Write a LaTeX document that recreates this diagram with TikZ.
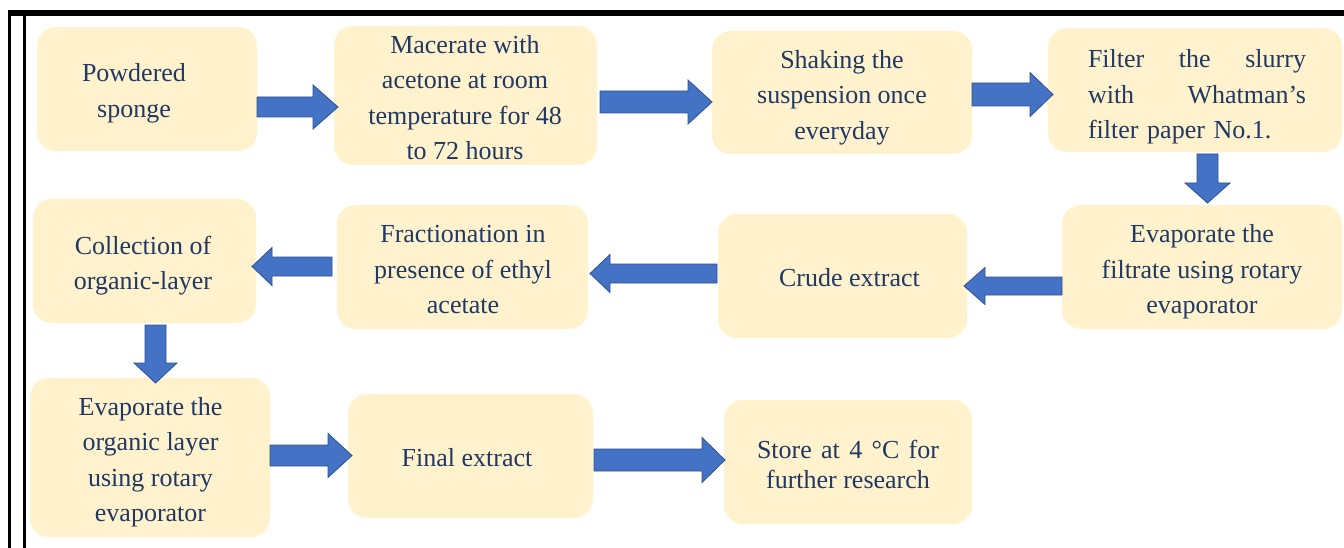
\documentclass[tikz,border=0pt]{standalone}
\usepackage{fontspec}
\setmainfont{Liberation Serif}
\usetikzlibrary{calc}
\definecolor{boxfill}{HTML}{FFF2CC}
\definecolor{navy}{HTML}{203864}
\definecolor{arrfill}{HTML}{4472C4}
\definecolor{arrline}{HTML}{2F528F}
\tikzset{
  stagebox/.style={rectangle, rounded corners=19pt, fill=boxfill, draw=none, inner sep=0pt},
  stagetext/.style={inner sep=0pt, text=navy, align=center,
    font=\fontsize{26}{35.5}\selectfont,
    execute at begin node=\strut, execute at end node=\strut},
  blockarrow/.style={fill=arrfill, draw=arrline, line width=0.8pt, line join=miter},
  frameline/.style={black, line cap=butt}
}
\newcommand\blockarr[5]{%
  \coordinate (hb) at ($(#2)!#5 pt!(#1)$);
  \filldraw[blockarrow] ($(#1)!#3 pt!90:(#2)$) -- ($(hb)!#3 pt!90:(#2)$) --
    ($(hb)!#4 pt!90:(#2)$) -- (#2) -- ($(hb)!#4 pt!-90:(#2)$) --
    ($(hb)!#3 pt!-90:(#2)$) -- ($(#1)!#3 pt!-90:(#2)$) -- cycle;
}
\newcommand\spreadline[2]{\leavevmode\hbox to #1{#2}}
\begin{document}
\begin{tikzpicture}[x=1pt,y=-1pt]
\useasboundingbox (0,0) rectangle (1344,548);
\fill[white] (0,0) rectangle (1344,548);
% frame
\draw[frameline, line width=3pt] (9.5,10) -- (9.5,548);
\draw[frameline, line width=3.5pt] (24.5,13) -- (24.5,548);
\draw[frameline, line width=6pt] (8,13) -- (1344,13);
% boxes
\node[stagebox, minimum width=220pt, minimum height=124pt] (b1) at (147,89) {};
\node[stagebox, minimum width=263pt, minimum height=139pt] (b2) at (465.5,95.5) {};
\node[stagebox, minimum width=260pt, minimum height=123pt] (b3) at (842,92.5) {};
\node[stagebox, minimum width=294pt, minimum height=124pt] (b4) at (1195,90) {};
\node[stagebox, minimum width=280pt, minimum height=124pt] (b5) at (1202,267) {};
\node[stagebox, minimum width=249pt, minimum height=124pt] (b6) at (842.5,276) {};
\node[stagebox, minimum width=251pt, minimum height=124pt] (b7) at (462.5,267) {};
\node[stagebox, minimum width=223pt, minimum height=124pt] (b8) at (144.5,261) {};
\node[stagebox, minimum width=240pt, minimum height=159pt] (b9) at (150,457.5) {};
\node[stagebox, minimum width=245pt, minimum height=124pt] (b10) at (470.5,456) {};
\node[stagebox, minimum width=248pt, minimum height=124pt] (b11) at (848,462) {};
% texts
\node[stagetext] (t1) at (134,96) {Powdered\\sponge};
\node[stagetext] (t2) at (465,103) {Macerate with\\acetone at room\\temperature for 48\\to 72 hours};
\node[stagetext] (t3) at (842,100.2) {Shaking the\\suspension once\\everyday};
\node[stagetext, align=left, text width=218pt] (t4) at (1197,96)
  {\spreadline{218pt}{Filter\hfill the\hfill slurry}\\\spreadline{218pt}{with\hfill Whatman’s}\\filter paper No.1.};
\node[stagetext] (t5) at (1202,274.5) {Evaporate the\\filtrate using rotary\\evaporator};
\node[stagetext] (t6) at (849.5,278.9) {Crude extract};
\node[stagetext] (t7) at (463,275) {Fractionation in\\presence of ethyl\\acetate};
\node[stagetext] (t8) at (143,268) {Collection of\\organic-layer};
\node[stagetext] (t9) at (150.5,465) {Evaporate the\\organic layer\\using rotary\\evaporator};
\node[stagetext] (t10) at (467,459) {Final extract};
\node[stagetext, font=\fontsize{26}{30}\selectfont] (t11) at (848,468.5)
  {\spreadline{182pt}{Store\hfill at\hfill 4\hfill °C\hfill for}\\further research};
% arrow end points
\coordinate (a1s) at (257,107);   \coordinate (a1e) at (338,107);
\coordinate (a2s) at (600,102);   \coordinate (a2e) at (712,102);
\coordinate (a3s) at (972,94.5);  \coordinate (a3e) at (1053,94.5);
\coordinate (a4s) at (1207.5,154);\coordinate (a4e) at (1207.5,203);
\coordinate (a5s) at (1062,286);  \coordinate (a5e) at (964,286);
\coordinate (a6s) at (717,273.5); \coordinate (a6e) at (590,273.5);
\coordinate (a7s) at (332,266.5); \coordinate (a7e) at (252,266.5);
\coordinate (a8s) at (155.5,325); \coordinate (a8e) at (155.5,383);
\coordinate (a9s) at (270,455.5); \coordinate (a9e) at (352,455.5);
\coordinate (a10s) at (594,460);  \coordinate (a10e) at (725,460);
% arrows
\blockarr{a1s}{a1e}{10}{22}{25}
\blockarr{a2s}{a2e}{11}{22}{24}
\blockarr{a3s}{a3e}{11.5}{22}{23}
\blockarr{a4s}{a4e}{10.5}{22.5}{20}
\blockarr{a5s}{a5e}{9}{18.5}{21}
\blockarr{a6s}{a6e}{9.5}{19}{20}
\blockarr{a7s}{a7e}{9.5}{19}{20}
\blockarr{a8s}{a8e}{10.5}{21.5}{20}
\blockarr{a9s}{a9e}{10.5}{22}{24}
\blockarr{a10s}{a10e}{11}{22.5}{23}
\end{tikzpicture}
\end{document}
